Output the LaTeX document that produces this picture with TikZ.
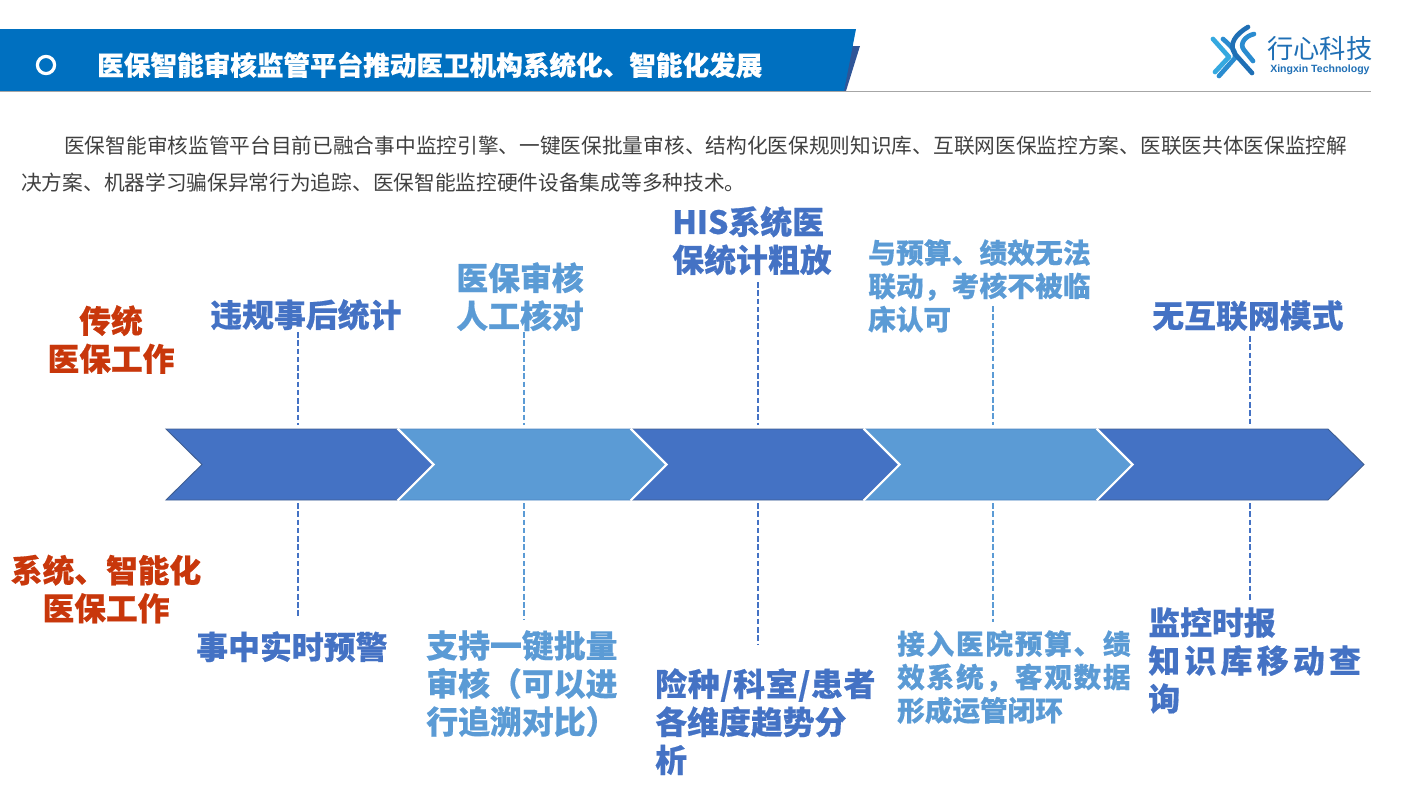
\documentclass[tikz,border=0pt]{standalone}
\usepackage{fontspec}
\setmainfont{Noto Sans CJK SC}[BoldFeatures={FakeBold=0.5}]
\newfontfamily\latinf{Liberation Sans}
\newcommand{\spc}[2]{{\addfontfeature{LetterSpace=#1}#2}}
\definecolor{barblue}{HTML}{0070C0}
\definecolor{stripe}{HTML}{2F5597}
\definecolor{cdark}{HTML}{4472C4}
\definecolor{clight}{HTML}{5B9BD5}
\definecolor{redt}{HTML}{C8370B}
\definecolor{bodyt}{HTML}{404040}
\definecolor{logoa}{HTML}{1F6FB5}
\definecolor{logob}{HTML}{35A9E0}
\definecolor{logoc}{HTML}{2A8CD0}
\tikzset{
  x=0.75pt,y=-0.75pt,
  lbl/.style={anchor=north west,inner sep=0pt,align=left,font=\fontsize{23.9pt}{28.5pt}\selectfont\bfseries},
  lbls/.style={anchor=north west,inner sep=0pt,align=left,font=\fontsize{20.7pt}{25pt}\selectfont\bfseries},
  redl/.style={anchor=center,inner sep=0pt,align=center,text=redt,font=\fontsize{23.8pt}{28.5pt}\selectfont\bfseries},
  dl/.style={line width=1.35pt,dash pattern=on 4.2pt off 2pt},
  bodyl/.style={anchor=west,inner sep=0pt,text=bodyt,font=\fontsize{15.52pt}{18pt}\selectfont},
  logol/.style={line cap=round,line join=round,line width=3.5pt},
  notch/.style={draw=white,line width=1.6pt,line join=miter},
  chd/.style={fill=cdark,draw=stripe!80!gray,line width=0.7pt,line join=miter},
  chl/.style={fill=clight,draw=clight!70!stripe,line width=0.7pt,line join=miter},
}
\begin{document}
\begin{tikzpicture}
\useasboundingbox (0,0) rectangle (1415,797);
% header
\fill[stripe] (845,46) -- (860,46) -- (846,91) -- (838,91) -- cycle;
\fill[barblue] (0,29) -- (856,29) -- (844,91) -- (0,91) -- cycle;
\draw[gray!70,line width=0.75pt] (0,91.5) -- (1371,91.5);
\draw[white,line width=2.4pt] (46,65) circle (8.6);
\node[anchor=west,inner sep=0pt,text=white,font=\fontsize{19.95pt}{24pt}\selectfont\bfseries] (title) at (97,65) {医保智能审核监管平台推动医卫机构系统化、智能化发展};
% logo
\draw[logol,logob] (1213,39) -- (1229,57) -- (1215,72);
\draw[logol,logoc] (1223,39) .. controls (1231,46) and (1237,52) .. (1235,58) -- (1219,76);
\draw[logol,logoa] (1248,27) .. controls (1236,34) and (1228,44) .. (1235,54) -- (1252,73);
\draw[logol,logoc] (1254,34) .. controls (1245,36) and (1239,44) .. (1244,50) -- (1253,61);
\node[anchor=west,inner sep=0pt,text=logoa,font=\fontsize{19.7pt}{22pt}\selectfont] (lgt) at (1267,49) {行心科技};
\node[anchor=west,inner sep=0pt,text=logoa,font=\fontsize{7.9pt}{9pt}\selectfont\latinf\bfseries] (lge) at (1270,70) {Xingxin Technology};
% body
\node[bodyl] (p1) at (64,146) {医保智能审核监管平台目前已融合事中监控引擎、一键医保批量审核、结构化医保规则知识库、互联网医保监控方案、医联医共体医保监控解};
\node[bodyl] (p2) at (21,183) {决方案、机器学习骗保异常行为追踪、医保智能监控硬件设备集成等多种技术。};
% dashes
\coordinate (t1) at (298,332); \coordinate (c1t) at (298,425); \coordinate (c1b) at (298,503); \coordinate (b1) at (298,618);
\coordinate (t2) at (524,332); \coordinate (c2t) at (524,425); \coordinate (c2b) at (524,503); \coordinate (b2) at (524,620);
\coordinate (t3) at (758,282); \coordinate (c3t) at (758,425); \coordinate (c3b) at (758,503); \coordinate (b3) at (758,645);
\coordinate (t4) at (993,306); \coordinate (c4t) at (993,425); \coordinate (c4b) at (993,503); \coordinate (b4) at (993,622);
\coordinate (t5) at (1250,336); \coordinate (c5t) at (1250,425); \coordinate (c5b) at (1250,503); \coordinate (b5) at (1250,600);
\draw[dl,cdark] (t1)--(c1t) (c1b)--(b1) (t3)--(c3t) (c3b)--(b3) (t5)--(c5t) (c5b)--(b5);
\draw[dl,clight] (t2)--(c2t) (c2b)--(b2) (t4)--(c4t) (c4b)--(b4);
% chevrons
\filldraw[chd] (166,429) -- (397,429) -- (433,464.5) -- (397,500) -- (166,500) -- (202,464.5) -- cycle;
\filldraw[chl] (398,429) -- (630,429) -- (666,464.5) -- (630,500) -- (398,500) -- (434,464.5) -- cycle;
\filldraw[chd] (631,429) -- (863,429) -- (899,464.5) -- (863,500) -- (631,500) -- (667,464.5) -- cycle;
\filldraw[chl] (864,429) -- (1096,429) -- (1132,464.5) -- (1096,500) -- (864,500) -- (900,464.5) -- cycle;
\filldraw[chd] (1097,429) -- (1328,429) -- (1364,464.5) -- (1328,500) -- (1097,500) -- (1133,464.5) -- cycle;
\draw[notch] (397.5,428.5) -- (433.5,464.5) -- (397.5,500.5);
\draw[notch] (630.5,428.5) -- (666.5,464.5) -- (630.5,500.5);
\draw[notch] (863.5,428.5) -- (899.5,464.5) -- (863.5,500.5);
\draw[notch] (1096.5,428.5) -- (1132.5,464.5) -- (1096.5,500.5);
% left labels
\node[redl] (r1) at (111,339.5) {传统\\医保工作};
\node[redl] (r2) at (106,589) {系统、智能化\\医保工作};
% top labels
\node[lbl,text=cdark] (a1) at (210,299) {违规事后统计};
\node[lbl,text=clight] (a2) at (456,262) {医保审核\\人工核对};
\node[lbl,text=cdark] (a3) at (672,206) {HIS系统医\\保统计粗放};
\node[lbls,text=clight] (a4) at (868,239) {\spc{0.8}{与预算、绩效无法}\\\spc{0.8}{联动，考核不被临}\\床认可};
\node[lbl,text=cdark] (a5) at (1152,300) {无互联网模式};
% bottom labels
\node[lbl,text=cdark] (d1) at (196,631) {事中实时预警};
\node[lbl,text=clight] (d2) at (426,630) {支持一键批量\\审核（可以进\\行追溯对比）};
\node[lbl,text=cdark] (d3) at (655,668) {\spc{2}{险种/科室/患者}\\各维度趋势分\\析};
\node[lbls,text=clight] (d4) at (897,630) {\spc{6.5}{接入医院预算、绩}\\\spc{6.5}{效系统，客观数据}\\形成运管闭环};
\node[lbl,text=cdark] (d5) at (1148,607) {监控时报\\\spc{13.5}{知识库移动查}\\询};
\end{tikzpicture}
\end{document}
